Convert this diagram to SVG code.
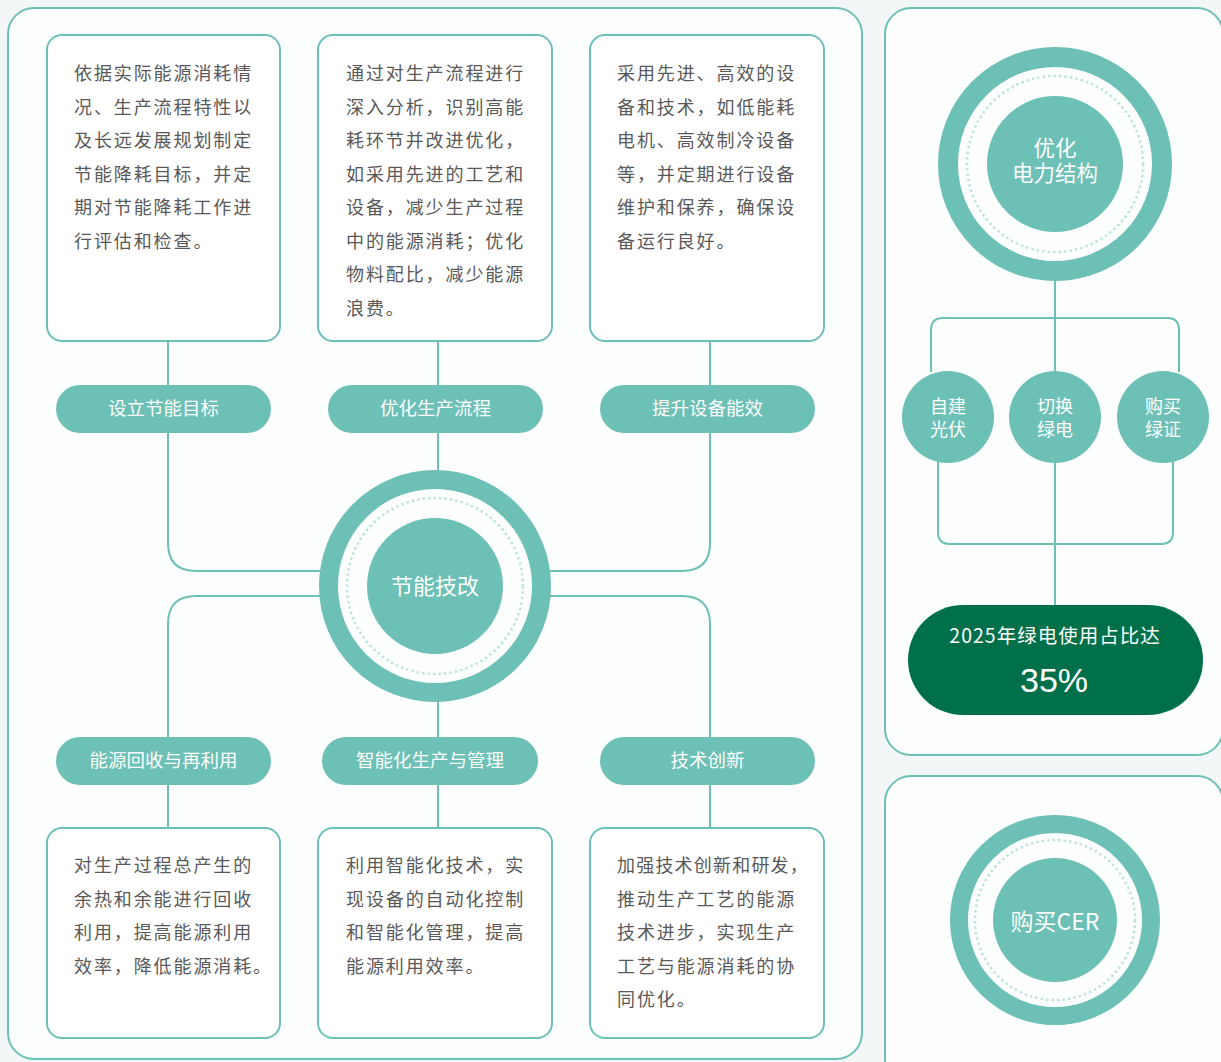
<svg xmlns="http://www.w3.org/2000/svg" width="1221" height="1062" viewBox="0 0 1221 1062">
<defs>
<style>
.panel{fill:#fdfefe;stroke:#6cc0b5;stroke-width:2}
.box{fill:#ffffff;stroke:#6cc0b5;stroke-width:2}
.pill{fill:#6cc0b5}
.ln{fill:none;stroke:#6cc0b5;stroke-width:2}
.ring{fill:none;stroke:#6cc0b5}
.dot{fill:none;stroke:#bfe3dd;stroke-width:2.5;stroke-dasharray:2.5 3}
.core{fill:#6cc0b5}
.body{font-family:"Noto Sans CJK SC","Noto Sans",sans-serif;font-size:18px;fill:#595959;letter-spacing:1.9px}
.pt{font-family:"Noto Sans CJK SC","Noto Sans",sans-serif;font-size:18.5px;fill:#ffffff;text-anchor:middle}
.ct{font-family:"Noto Sans CJK SC","Liberation Sans",sans-serif;fill:#ffffff;text-anchor:middle}
.ct2{font-family:"Liberation Sans","Noto Sans CJK SC",sans-serif;fill:#ffffff;text-anchor:middle}
</style>
</defs>
<rect x="0" y="0" width="1221" height="1062" fill="#f3f6f6"/>
<rect class="panel" x="8" y="8" width="854" height="1051" rx="26"/>
<rect class="panel" x="885" y="8" width="338" height="747" rx="26"/>
<rect class="panel" x="885" y="776" width="338" height="310" rx="26"/>

<g id="connectors">
<path class="ln" d="M168,341 V385 M438,341 V385 M710,341 V385"/>
<path class="ln" d="M168,433 V543 Q168,571 196,571 H322"/>
<path class="ln" d="M438,433 V470"/>
<path class="ln" d="M710,433 V543 Q710,571 682,571 H550"/>
<path class="ln" d="M322,596 H196 Q168,596 168,624 V737"/>
<path class="ln" d="M438,701 V737"/>
<path class="ln" d="M550,596 H682 Q710,596 710,624 V737"/>
<path class="ln" d="M168,785 V828 M438,785 V828 M710,785 V828"/>
<path class="ln" d="M1055,281 V605"/>
<path class="ln" d="M931,372 V330 Q931,318 943,318 H1167 Q1179,318 1179,330 V372"/>
<path class="ln" d="M938,461 V532 Q938,544 950,544 H1161 Q1173,544 1173,532 V461"/>
</g>

<g id="box-goal">
<rect class="box" x="47" y="35" width="233" height="306" rx="15"/>
<text class="body"><tspan x="74" y="80">依据实际能源消耗情</tspan><tspan x="74" y="113.5">况、生产流程特性以</tspan><tspan x="74" y="147">及长远发展规划制定</tspan><tspan x="74" y="180.5">节能降耗目标，并定</tspan><tspan x="74" y="214">期对节能降耗工作进</tspan><tspan x="74" y="247.5">行评估和检查。</tspan></text>
</g>
<g id="box-process">
<rect class="box" x="318" y="35" width="234" height="306" rx="15"/>
<text class="body"><tspan x="346" y="80">通过对生产流程进行</tspan><tspan x="346" y="113.5">深入分析，识别高能</tspan><tspan x="346" y="147">耗环节并改进优化，</tspan><tspan x="346" y="180.5">如采用先进的工艺和</tspan><tspan x="346" y="214">设备，减少生产过程</tspan><tspan x="346" y="247.5">中的能源消耗；优化</tspan><tspan x="346" y="281">物料配比，减少能源</tspan><tspan x="346" y="314.5">浪费。</tspan></text>
</g>
<g id="box-equipment">
<rect class="box" x="590" y="35" width="234" height="306" rx="15"/>
<text class="body"><tspan x="617" y="80">采用先进、高效的设</tspan><tspan x="617" y="113.5">备和技术，如低能耗</tspan><tspan x="617" y="147">电机、高效制冷设备</tspan><tspan x="617" y="180.5">等，并定期进行设备</tspan><tspan x="617" y="214">维护和保养，确保设</tspan><tspan x="617" y="247.5">备运行良好。</tspan></text>
</g>

<g id="pill-goal"><rect class="pill" x="56" y="385" width="215" height="48" rx="24"/><text class="pt" x="163.5" y="415">设立节能目标</text></g>
<g id="pill-process"><rect class="pill" x="328" y="385" width="215" height="48" rx="24"/><text class="pt" x="435.5" y="415">优化生产流程</text></g>
<g id="pill-equipment"><rect class="pill" x="600" y="385" width="215" height="48" rx="24"/><text class="pt" x="707.5" y="415">提升设备能效</text></g>

<g id="center">
<circle class="ring" cx="435" cy="586" r="106.5" stroke-width="19"/>
<circle class="dot" cx="435" cy="586" r="88"/>
<circle class="core" cx="435" cy="586" r="68"/>
<text class="ct" x="435" y="594" font-size="22">节能技改</text>
</g>

<g id="pill-recycle"><rect class="pill" x="56" y="737" width="215" height="48" rx="24"/><text class="pt" x="163.5" y="767">能源回收与再利用</text></g>
<g id="pill-smart"><rect class="pill" x="322" y="737" width="216" height="48" rx="24"/><text class="pt" x="430" y="767">智能化生产与管理</text></g>
<g id="pill-innov"><rect class="pill" x="600" y="737" width="215" height="48" rx="24"/><text class="pt" x="707.5" y="767">技术创新</text></g>

<g id="box-recycle">
<rect class="box" x="47" y="828" width="233" height="210" rx="15"/>
<text class="body"><tspan x="74" y="872">对生产过程总产生的</tspan><tspan x="74" y="905.5">余热和余能进行回收</tspan><tspan x="74" y="939">利用，提高能源利用</tspan><tspan x="74" y="972.5">效率，降低能源消耗。</tspan></text>
</g>
<g id="box-smart">
<rect class="box" x="318" y="828" width="234" height="210" rx="15"/>
<text class="body"><tspan x="346" y="872">利用智能化技术，实</tspan><tspan x="346" y="905.5">现设备的自动化控制</tspan><tspan x="346" y="939">和智能化管理，提高</tspan><tspan x="346" y="972.5">能源利用效率。</tspan></text>
</g>
<g id="box-innov">
<rect class="box" x="590" y="828" width="234" height="210" rx="15"/>
<text class="body"><tspan x="617" y="872" letter-spacing="1.2px">加强技术创新和研发，</tspan><tspan x="617" y="905.5">推动生产工艺的能源</tspan><tspan x="617" y="939">技术进步，实现生产</tspan><tspan x="617" y="972.5">工艺与能源消耗的协</tspan><tspan x="617" y="1006">同优化。</tspan></text>
</g>

<g id="power">
<circle class="ring" cx="1055" cy="164" r="107" stroke-width="20"/>
<circle class="dot" cx="1055" cy="164" r="88"/>
<circle class="core" cx="1055" cy="164" r="68"/>
<text class="ct2" x="1055" y="156" font-size="21.5">优化</text>
<text class="ct2" x="1055" y="181" font-size="21.5">电力结构</text>
</g>

<g id="pv"><circle class="core" cx="948" cy="417" r="46"/><text class="ct2" x="948" y="412.5" font-size="18">自建</text><text class="ct2" x="948" y="435.5" font-size="18">光伏</text></g>
<g id="switch"><circle class="core" cx="1055" cy="417" r="46"/><text class="ct2" x="1055" y="412.5" font-size="18">切换</text><text class="ct2" x="1055" y="435.5" font-size="18">绿电</text></g>
<g id="cert"><circle class="core" cx="1163" cy="417" r="46"/><text class="ct2" x="1163" y="412.5" font-size="18">购买</text><text class="ct2" x="1163" y="435.5" font-size="18">绿证</text></g>

<g id="target">
<rect x="908" y="605" width="295" height="110" rx="55" fill="#00704a"/>
<text class="ct" x="1055" y="643" font-size="19.5" letter-spacing="1px">2025年绿电使用占比达</text>
<text x="1054" y="692" font-family="'Liberation Sans',Arial,sans-serif" font-size="34" fill="#ffffff" text-anchor="middle">35%</text>
</g>

<g id="cer">
<circle class="ring" cx="1055" cy="920" r="96" stroke-width="18"/>
<circle class="dot" cx="1055" cy="920" r="80"/>
<circle class="core" cx="1055" cy="920" r="62"/>
<text class="ct" x="1055" y="930" font-size="23">购买CER</text>
</g>
</svg>
